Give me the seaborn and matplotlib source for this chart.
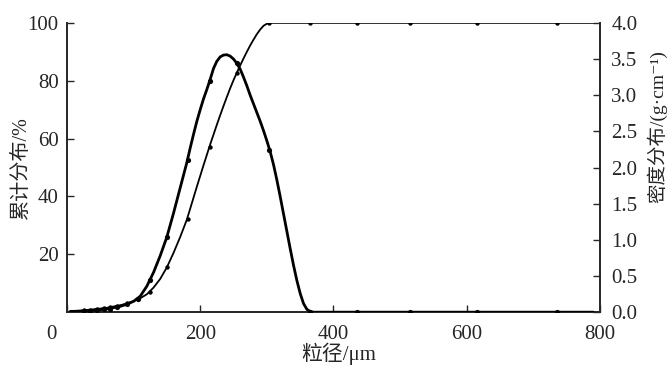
# -*- coding: utf-8 -*-

import matplotlib
matplotlib.use("Agg")
import matplotlib.pyplot as plt
import matplotlib.transforms as mtransforms
import pandas as pd
import seaborn as sns

# Traced curves (particle size in um)
trace_um = [5, 20, 40, 60, 80, 90, 100, 110, 120, 130, 140, 150, 160, 170, 180,
            185, 190, 195, 200, 205, 210, 215, 220, 225, 230, 235, 240, 245, 250, 255,
            260, 265, 270, 275, 280, 285, 290, 295, 300, 305, 310, 315, 320, 325, 330,
            335, 340, 345, 350, 355, 360, 365, 370, 380, 400, 500, 600, 700, 790]
cum_trace = [0.3, 0.5, 1.0, 1.5, 2.4, 3.0, 3.8, 4.8, 6.2, 8.5, 11.5, 15.5, 20.5, 26.0, 32.0,
             35.8, 39.6, 43.4, 47.1, 50.8, 54.4, 58.0, 61.4, 64.8, 68.1, 71.3, 74.4, 77.4, 80.2, 82.8,
             85.3, 87.7, 90.0, 92.2, 94.2, 96.1, 97.7, 99.0, 99.7, 100, 100, 100, 100, 100, 100,
             100, 100, 100, 100, 100, 100, 100, 100, 100, 100, 100, 100, 100, 100]
dens_trace = [0.01, 0.015, 0.025, 0.045, 0.08, 0.11, 0.15, 0.22, 0.36, 0.55, 0.78, 1.04, 1.37, 1.72, 2.07,
              2.27, 2.46, 2.64, 2.80, 2.95, 3.08, 3.22, 3.37, 3.47, 3.53, 3.555, 3.56, 3.54, 3.50, 3.44,
              3.36, 3.25, 3.13, 3.00, 2.88, 2.76, 2.64, 2.51, 2.37, 2.22, 2.04, 1.83, 1.60, 1.36, 1.12,
              0.88, 0.65, 0.44, 0.26, 0.12, 0.04, 0.01, 0.0, 0.0, 0.0, 0.0, 0.0, 0.0, 0.0]

# Measured points (markers)
mark_um = [25, 35, 45, 55, 65, 75, 90, 106, 125, 150, 181, 214, 255, 303, 365, 435, 515, 615, 735]
cum_mark = [0.6, 0.9, 1.1, 1.4, 1.7, 2.2, 3.0, 4.4, 7.0, 15.5, 32.2, 57.2, 82.6, 100, 100, 100, 100, 100, 100]
dens_mark = [0.02, 0.02, 0.03, 0.04, 0.05, 0.07, 0.11, 0.18, 0.45, 1.04, 2.10, 3.20, 3.45, 2.24, 0, 0, 0, 0, 0]

x_ticks = [0, 200, 400, 600, 800]
left_ticks = [20, 40, 60, 80, 100]
right_ticks = [0.0, 0.5, 1.0, 1.5, 2.0, 2.5, 3.0, 3.5, 4.0]

line_df = pd.DataFrame({"size": trace_um, "cum": cum_trace, "dens": dens_trace})
mark_df = pd.DataFrame({"size": mark_um, "cum": cum_mark, "dens": dens_mark})

sns.set_style("ticks")
plt.rcParams["font.family"] = ["Liberation Serif", "Noto Sans CJK SC", "DejaVu Sans"]
mixed = ["Liberation Serif", "Noto Sans CJK SC", "DejaVu Sans"]

fig, ax = plt.subplots(figsize=(6.69, 3.69), dpi=100)
fig.subplots_adjust(left=0.100, right=0.897, bottom=0.154, top=0.938)
ax2 = ax.twinx()

# cumulative distribution (left axis)
sns.lineplot(data=line_df, x="size", y="cum", ax=ax, color="black", linewidth=1.3)
sns.scatterplot(data=mark_df, x="size", y="cum", ax=ax, color="black", s=10,
                edgecolor="black", linewidth=0, zorder=3)

# density distribution (right axis)
sns.lineplot(data=line_df, x="size", y="dens", ax=ax2, color="black", linewidth=2.0)
sns.scatterplot(data=mark_df, x="size", y="dens", ax=ax2, color="black", s=14,
                edgecolor="black", linewidth=0, zorder=3)

ax.set_xlim(0, 800)
ax.set_ylim(0, 100)
ax2.set_ylim(0, 4.0)
ax.set_xticks(x_ticks)
ax.set_yticks(left_ticks)
ax2.set_yticks(right_ticks)
ax2.set_yticklabels([f"{v:.1f}" for v in right_ticks])

for a in (ax, ax2):
    a.spines["top"].set_visible(False)
    for s in ("left", "right", "bottom"):
        a.spines[s].set_linewidth(1.4)
ax.spines["right"].set_visible(False)
ax2.spines["left"].set_visible(False)
ax2.spines["bottom"].set_visible(False)

ax.tick_params(axis="both", direction="in", length=5, width=1.0, labelsize=15, pad=6)
ax.tick_params(axis="x", pad=9)
ax2.tick_params(axis="y", direction="in", length=5, width=1.0, labelsize=15, pad=8)

# "0" at the origin sits left of its tick
lbl0 = ax.get_xticklabels()[0]
lbl0.set_transform(lbl0.get_transform() + mtransforms.ScaledTranslation(-0.15, 0, fig.dpi_scale_trans))

ax.set_xlabel("粒径/μm", fontsize=15, family=mixed)
ax.set_ylabel("累计分布/%", fontsize=14.5, family=mixed)
ax2.set_ylabel("密度分布/(g·cm⁻¹)", fontsize=14, family=mixed)
ax.yaxis.set_label_coords(-0.068, 0.5)
ax.xaxis.set_label_coords(0.51, -0.105)
ax2.yaxis.set_label_coords(1.088, 0.64)

plt.savefig("out.png", dpi=100)
plt.close("all")
